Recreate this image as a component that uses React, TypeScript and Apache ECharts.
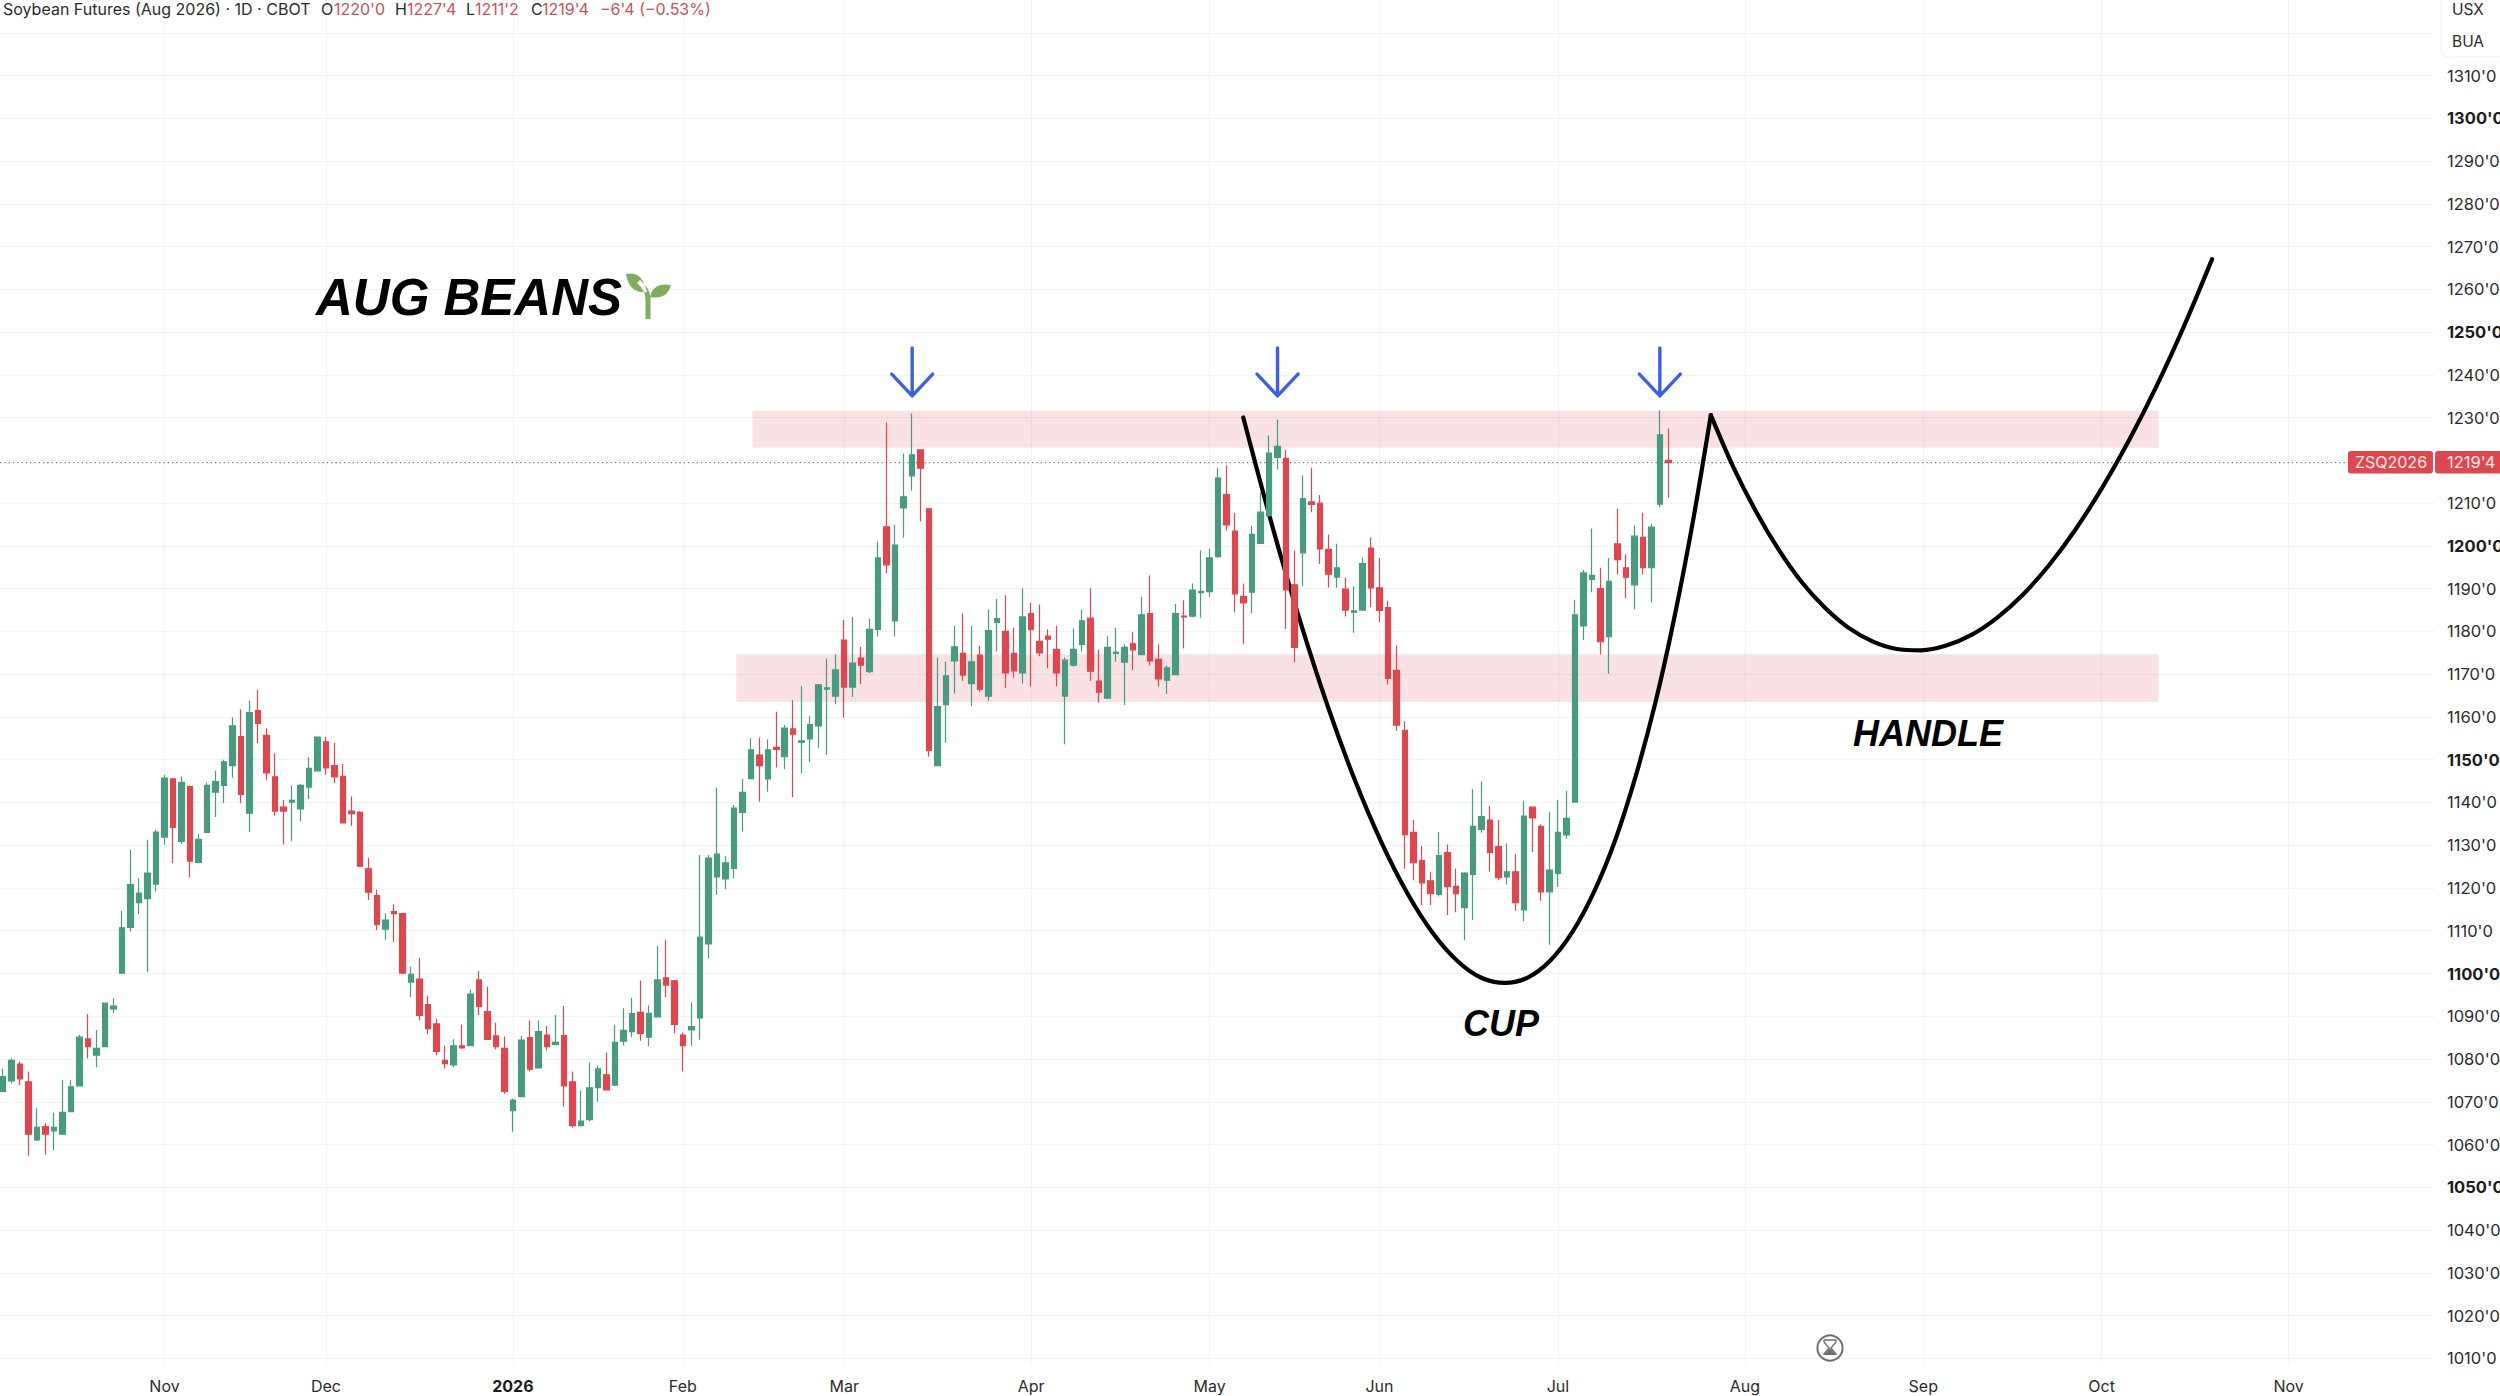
import React, { useEffect, useRef } from "react";
import * as echarts from "echarts";

const opens = [
  1072.4,1074.9,1078.8,1074.65,1061.1,1064.2,1063.2,1062.4,1067.7,1073.7,
  1084.7,1080.9,1082.9,1091.7,1100.1,1110.8,1116.6,1117.5,1120.9,1131.9,
  1145.5,1130.9,1143.7,1126,1133,1142.4,1144,1148.6,1155.4,1137.5,
  1161.5,1155.7,1146,1138.9,1140.1,1138.5,1143.6,1147.4,1154.2,1148.6,
  1146.1,1138,1137.7,1124.5,1118.2,1110.4,1114.5,1114,1098,1098.7,
  1092.7,1088.2,1079.7,1078.6,1083.1,1083.1,1098.5,1091.1,1085.4,1082.5,
  1067.9,1071.2,1085,1077.9,1085.6,1083.4,1085.5,1074.65,1064.4,1065.8,
  1073.3,1076.3,1073.9,1084.2,1086.4,1090.9,1085.1,1089.85,1099,1098.3,
  1085.6,1086.8,1089.6,1106.9,1122.6,1122.1,1124.6,1137.7,1145.6,1151.1,
  1145.5,1152.9,1150.7,1157.2,1154.1,1154.9,1157.9,1166.5,1164.9,1178,
  1167,1173.8,1170.6,1180.5,1204.5,1182.5,1208.9,1216.4,1222.5,1208.7,
  1148.6,1162.9,1173.1,1174.9,1167.8,1174.5,1164.9,1182.1,1180,1174.9,
  1170.3,1184.2,1177.7,1178.9,1175.8,1164.9,1172.1,1177,1183.1,1168.4,
  1164.4,1174.9,1172.8,1177.1,1174.6,1184.2,1173.5,1168.6,1169.9,1183.6,
  1183.6,1189.1,1189.3,1197.5,1212,1203.5,1188.2,1189.2,1200.6,1207.1,
  1220.7,1220.5,1190.9,1198.4,1210.3,1210,1199.2,1192.7,1189.9,1184.5,
  1185,1199.5,1190.2,1185.6,1170.9,1156.9,1133,1126.4,1121.7,1118.5,
  1128.3,1120.4,1115.4,1123.2,1133.7,1135.9,1129.7,1122.6,1123.8,1114.9,
  1138.9,1134.4,1119.1,1123.4,1132.4,1140.1,1181.3,1192.2,1190,1178.8,
  1200.5,1194.9,1190.9,1202,1194.9,1209.8,1220,
];
const closes = [
  1075.9,1079.7,1075.35,1062.4,1064,1062.4,1064,1067.5,1073.5,1085.1,
  1082.9,1082.5,1093.05,1092.4,1110.7,1120.8,1118.8,1123.5,1133.1,1145.7,
  1134.2,1144.7,1126.3,1131.4,1144,1144.9,1149.5,1157.9,1141.9,1161,
  1158.5,1146.9,1138,1138,1140.5,1144,1148,1155.3,1148.1,1146,
  1135.2,1137.4,1125.1,1119,1111.4,1112.5,1114,1100.1,1099.8,1090.2,
  1087.1,1081.8,1078.9,1083.1,1082.6,1095.2,1092.3,1084.6,1082.9,1072.4,
  1070.4,1084.4,1077.6,1086.4,1082.9,1083.9,1073.7,1064.4,1065.45,1073.25,
  1077.7,1072.8,1083.9,1086.7,1090.6,1086,1090.7,1098.5,1097.3,1088.1,
  1083.1,1087.6,1108.5,1127,1127.9,1125.9,1138.7,1142.4,1152.3,1148.6,
  1152.3,1152.4,1157.4,1156,1154.4,1158.2,1167.5,1166.8,1171,1167,
  1172.6,1172.1,1180.5,1197.2,1195.6,1200.2,1211.5,1221.3,1218.2,1152.2,
  1162.4,1169.6,1176.4,1169.8,1172.9,1166.5,1180.2,1183,1170.3,1170.8,
  1183.4,1180.4,1175,1178.2,1170.3,1173.3,1175.8,1182.5,1170.7,1165.8,
  1176.3,1175.2,1176.3,1175.7,1183.9,1173.1,1168.9,1171.5,1184.2,1183.4,
  1189.7,1189.4,1197.2,1215.9,1204.9,1188.8,1186.7,1202.7,1207.9,1221.7,
  1223.3,1189.7,1176.3,1211.1,1209.7,1199.3,1193.4,1194.9,1185,1184.8,
  1195.9,1190.2,1184.9,1169,1158.1,1132.5,1125.9,1121.2,1118.7,1127.6,
  1120.3,1118.7,1123.5,1134.4,1136.7,1128.3,1122.4,1123.8,1116.6,1136.8,
  1136.4,1119.1,1124.2,1133,1136.3,1183.9,1193.7,1193.1,1177.6,1191.7,
  1196.8,1192.7,1202.3,1194.9,1204.4,1226,1219.5,
];
const highs = [
  1077.8,1080.2,1079.4,1077.1,1068.5,1065,1067.5,1075.1,1075.1,1085.6,
  1090.55,1086.8,1093.2,1094.2,1114.7,1128.9,1122.3,1131.3,1133.6,1146.5,
  1145.7,1146.1,1144,1132.7,1144.7,1147.4,1150,1159.95,1161.8,1163.85,
  1166.3,1157.4,1151.5,1140.6,1144,1144.4,1150.6,1155.3,1155.4,1154,
  1149,1141.4,1138,1127,1119.6,1114.1,1116.2,1114.2,1101.6,1103.7,
  1094.8,1089.4,1083.1,1084.6,1088.1,1096.2,1100.5,1096.9,1088.5,1085.25,
  1070.75,1085.4,1089,1089,1087.75,1090.3,1092.4,1077.1,1072.6,1079.25,
  1078.5,1081.5,1088,1091.9,1094.3,1098.3,1092.5,1106.5,1107.9,1098.5,
  1086.2,1093.2,1127.7,1127.7,1143.5,1127.5,1139.4,1145.5,1155,1155.2,
  1154.8,1161.2,1158.1,1163.9,1167.2,1160.2,1167.7,1173.7,1174.7,1182.7,
  1183.4,1176.4,1183,1201,1228.9,1204.9,1221.6,1231,1222.5,1208.7,
  1173.9,1172.9,1181.3,1184.2,1181.3,1176.7,1185.2,1187.6,1188.5,1180.9,
  1190.1,1186.7,1186.3,1180.5,1181.3,1173.9,1180.7,1185.2,1190.1,1175.8,
  1178.9,1180.9,1177,1179.9,1188.1,1193.1,1177,1172.1,1186.4,1187.3,
  1191.2,1199,1199.4,1218.3,1218.8,1207.7,1191.2,1204.7,1212.5,1225.9,
  1229.6,1222.5,1198.9,1216.5,1218.3,1211.9,1202.7,1200.5,1192.6,1190.5,
  1197.3,1202,1197.2,1187.2,1176.7,1159,1135.9,1129.8,1123.8,1133.1,
  1130.2,1124.5,1123.7,1143.1,1144.9,1139.2,1135.9,1130.4,1127.9,1140.4,
  1138.9,1134.9,1137.7,1140.6,1142.7,1187.4,1194.4,1204.1,1194.9,1197.2,
  1208.7,1198,1204.8,1207.7,1205.2,1231.7,1227.5,
];
const lows = [
  1072.2,1074.3,1073.95,1057.4,1060.85,1057.6,1058.7,1062.25,1067.6,1073.55,
  1080.2,1078.1,1082.8,1090.7,1099.9,1109.8,1113.9,1100.3,1119.2,1130.1,
  1125.8,1130.3,1122.5,1125.8,1132.8,1136.6,1139.8,1145.8,1139.8,1133.1,
  1153.9,1145.3,1136.9,1130.2,1131,1135.6,1140.8,1147.3,1146.5,1144.5,
  1135.1,1134.5,1124.9,1117.2,1110.2,1107.9,1107.4,1099.8,1094.5,1089,
  1085.8,1080.9,1077.8,1078.1,1082.4,1083,1090.3,1084.5,1082.3,1071.8,
  1063,1071.1,1077.1,1077.8,1082,1083.2,1068.9,1064,1064.3,1065.4,
  1070,1072.6,1073.7,1083.2,1085.1,1084.3,1083,1089.8,1094.5,1086,
  1077.1,1083.1,1084.5,1103.5,1118.4,1119.7,1122.3,1133.2,1145.5,1140.2,
  1142.5,1148.2,1147.8,1141.3,1146.8,1149.4,1152.8,1151.1,1163,1159.8,
  1164.7,1167.7,1170.3,1178.8,1193.6,1178.8,1201.9,1212.9,1205.7,1150.7,
  1148.6,1154,1165.5,1168.4,1162.5,1165.9,1163.8,1175.3,1166.7,1169.2,
  1167.8,1167.1,1174.2,1171.4,1167.2,1153.6,1171.8,1175.3,1168.4,1163.4,
  1164.3,1172.9,1162.8,1171,1174.5,1172.1,1167.1,1165.4,1169.8,1176,
  1183.3,1183.2,1188,1197.3,1203.6,1184.5,1177.1,1184.3,1200.5,1206.9,
  1217.9,1180.6,1172.8,1190.6,1207.9,1195.8,1190.3,1190.2,1183.5,1179.7,
  1184.9,1185.7,1182.2,1167.6,1156.8,1124.5,1121.8,1116,1116,1118,
  1113.7,1114.3,1107.8,1112.5,1132.9,1123.8,1121.8,1120.8,1114.7,1112.2,
  1128.4,1117,1106.7,1120.3,1131.5,1140.1,1178,1189.2,1174.6,1170.1,
  1193.3,1187.7,1185.2,1193.3,1186.8,1209.1,1211.25,
];

// Month labels and the bar number (0 = first candle drawn) each one sits on.
const monthLabels = ["Nov","Dec","2026","Feb","Mar","Apr","May","Jun","Jul","Aug","Sep","Oct","Nov"];
const monthBars = [19,38,60,80,99,121,142,162,183,205,226,247,269];
const boldMonths = ["2026"];

const priceTicks = [1010,1020,1030,1040,1050,1060,1070,1080,1090,1100,1110,1120,1130,1140,1150,1160,1170,1180,1190,1200,1210,1220,1230,1240,1250,1260,1270,1280,1290,1300,1310,1320];
// 1320 sits behind the currency box, 1220 behind the price tag.
const priceLabels = priceTicks.filter((v) => v !== 1320 && v !== 1220);
const lastPrice = 1219.5;

// Hand-drawn cup and handle, as [bar, price].
const cupCurve = [
  [145.97,1230.05],[149.35,1204.9],[152.66,1182.4],[155.91,1162.5],[159.09,1145.3],[162.2,1130.8],
  [165.25,1118.9],[168.23,1109.6],[171.14,1103],[173.99,1099],[176.78,1097.8],[179.5,1099.1],
  [182.14,1103.1],[184.73,1109.8],[187.25,1119.1],[189.71,1131],[192.09,1145.7],[194.42,1162.9],
  [196.66,1182.8],[198.86,1205.4],[201,1230.6],
];
const handleCurve = [
  [201,1230.6],[203.59,1218.7],[206.25,1208.3],[208.93,1199.3],[211.64,1191.7],[214.41,1185.6],
  [217.18,1180.9],[220.02,1177.7],[222.88,1175.9],[225.78,1175.6],[228.71,1176.7],[231.67,1179.2],
  [234.68,1183.2],[237.72,1188.6],[240.8,1195.5],[243.9,1203.8],[247.05,1213.6],[250.24,1224.8],
  [253.46,1237.4],[256.71,1251.5],[260,1267.1],
];
const bandUpper = [88.2, 253.7, 1231.6, 1223];
const bandLower = [86.3, 253.7, 1174.7, 1163.5];
const arrowBars = [107, 150, 195];
const arrowPrices = { top: 1246.3, tip: 1235.1, head: 1240.2 };
const arrowHalfWidth = 2.41;

const GREEN = "#4A9A82";
const RED = "#DC484F";
const GRID = "#F1F2F4";
const UI_FONT = "Inter";

const headerParts: [number, string, string][] = [
  [3, "Soybean Futures (Aug 2026) · 1D · CBOT", "#2b2b2b"],
  [321, "O", "#2b2b2b"], [334, "1220'0", "#C4535E"],
  [395, "H", "#2b2b2b"], [407, "1227'4", "#C4535E"],
  [466, "L", "#2b2b2b"], [475, "1211'2", "#C4535E"],
  [531, "C", "#2b2b2b"], [542, "1219'4", "#C4535E"],
  [600, "−6'4 (−0.53%)", "#C4535E"],
];

echarts.graphic.registerShape(
  "sprout",
  echarts.graphic.extendPath(
    "M645.5 319 L650.5 319 L650.5 298 Q650 288 640 280 L637 283 Q645.5 290 645.5 300 Z " +
      "M626 274 Q642 270 647 292 Q629 294 626 274 Z " +
      "M650 297 Q653 282 671 285 Q667 300 650 297 Z",
    {}
  ) as any
);

function buildOption() {
  const candles = opens.map((o, i) => [i, o, closes[i], lows[i], highs[i]]);

  const line = (name: string, data: number[][], extra: any) => ({
    type: "line", name, data,
    showSymbol: false, symbol: "none", silent: true, clip: true, ...extra,
  });

  const arrows = arrowBars.map((b, i) =>
    line(`arrow${i}`, [
      [b, arrowPrices.top], [b, arrowPrices.tip], [b - arrowHalfWidth, arrowPrices.head],
      [b, arrowPrices.tip], [b + arrowHalfWidth, arrowPrices.head],
    ], { z: 4, lineStyle: { color: "#3F5FE0", width: 3.4, cap: "round", join: "round" } })
  );

  const text = (x: number, y: number, t: string, font: string, fill: string, align = "left") => ({
    type: "text", x, y, z: 20,
    style: { text: t, font, fill, align, verticalAlign: "middle" },
  });
  const boldItalic = (s: number) => `italic bold ${s}px "Liberation Sans"`;
  const ui = (s: number) => `${s}px ${UI_FONT}`;

  return {
    animation: false,
    backgroundColor: "#ffffff",
    grid: { left: 0, right: 67, top: 0, bottom: 31, containLabel: false, outerBoundsMode: "none" },
    xAxis: {
      type: "value",
      min: -0.365,
      max: 286,
      axisLine: { show: false },
      axisTick: { show: false, customValues: monthBars },
      splitLine: { show: true, lineStyle: { color: "#F2F3F5", width: 1 } },
      axisLabel: {
        customValues: monthBars,
        margin: 13,
        color: "#2b2b2b",
        fontFamily: UI_FONT,
        fontSize: 16,
        formatter: (v: number) => {
          const label = monthLabels[monthBars.indexOf(v)] ?? "";
          return boldMonths.includes(label) ? `{b|${label}}` : label;
        },
        rich: { b: { fontFamily: UI_FONT, fontSize: 16, fontWeight: "bold", color: "#1c1c1c" } },
      },
    },
    yAxis: {
      type: "value",
      position: "right",
      min: 1008.43,
      max: 1327.7,
      axisLine: { show: false },
      axisTick: { show: false, customValues: priceTicks },
      splitLine: { show: true, lineStyle: { color: GRID, width: 1 } },
      axisLabel: {
        customValues: priceLabels,
        margin: 14,
        color: "#2b2b2b",
        fontFamily: UI_FONT,
        fontSize: 16.5,
        align: "left",
        formatter: (v: number) => (v % 50 === 0 ? `{b|${v}'0}` : `${v}'0`),
        rich: { b: { fontFamily: UI_FONT, fontSize: 16.5, fontWeight: "bold", color: "#1c1c1c" } },
      },
    },
    series: [
      line("last", [[-0.365, lastPrice], [286, lastPrice]], {
        z: 1,
        lineStyle: { color: "#777777", width: 1.3, type: [1.3, 3] },
        markArea: {
          silent: true,
          itemStyle: { color: "rgba(215,70,90,0.16)" },
          data: [bandUpper, bandLower].map(([x0, x1, y0, y1]) => [
            { coord: [x0, y0] }, { coord: [x1, y1] },
          ]),
        },
      }),
      line("cup", cupCurve, { z: 2, smooth: 0.3, lineStyle: { color: "#000", width: 4.2, cap: "round" } }),
      line("handle", handleCurve, { z: 2, smooth: 0.3, lineStyle: { color: "#000", width: 4.2, cap: "round" } }),
      {
        type: "candlestick",
        name: "ZSQ2026",
        z: 3,
        silent: true,
        barWidth: 6,
        encode: { x: 0, y: [1, 2, 3, 4] },
        data: candles,
        itemStyle: { color: GREEN, color0: RED, borderColor: GREEN, borderColor0: RED, borderWidth: 1.2 },
      },
      ...arrows,
    ],
    graphic: {
      elements: [
        ...headerParts.map(([x, t, c]) => text(x, 9, t, ui(16), c)),
        { type: "rect", z: 19, shape: { x: 2441, y: -8, width: 70, height: 65, r: 8 }, style: { fill: "#fff", stroke: "#F1F1F2", lineWidth: 1 } },
        text(2452, 9, "USX", ui(15.5), "#2b2b2b"),
        text(2452, 41, "BUA", ui(15.5), "#2b2b2b"),
        { type: "rect", z: 19, shape: { x: 2348, y: 451, width: 85, height: 22.5, r: 3 }, style: { fill: RED } },
        { type: "rect", z: 19, shape: { x: 2435, y: 451, width: 70, height: 22.5, r: 3 }, style: { fill: RED } },
        text(2391, 462, "ZSQ2026", ui(16), "#FCE9EA", "center"),
        text(2447, 462, "1219'4", ui(16.5), "#FCE9EA"),
        text(316, 297, "AUG BEANS", boldItalic(51), "#000"),
        { type: "sprout", z: 20, x: 0, y: 0, style: { fill: "#7FAE60" } },
        text(1463, 1023, "CUP", boldItalic(36), "#000"),
        text(1853, 733, "HANDLE", boldItalic(36), "#000"),
        { type: "circle", z: 20, shape: { cx: 1830, cy: 1348, r: 12.6 }, style: { fill: "#fff", stroke: "#707070", lineWidth: 2 } },
        { type: "polyline", z: 20, shape: { points: [[1824, 1340], [1836, 1340], [1836, 1342], [1831, 1348], [1836, 1354], [1824, 1354], [1829, 1348], [1824, 1342], [1824, 1340]] }, style: { stroke: "#707070", lineWidth: 1.4, fill: "none" } },
        { type: "polygon", z: 20, shape: { points: [[1830, 1348], [1836, 1355], [1824, 1355]] }, style: { fill: "#707070" } },
      ],
    },
  };
}

export default function App() {
  const ref = useRef<HTMLDivElement>(null);
  useEffect(() => {
    const chart = echarts.init(ref.current as HTMLDivElement, undefined, { renderer: "svg" });
    chart.setOption(buildOption() as any);
    return () => chart.dispose();
  }, []);
  return <div ref={ref} style={{ position: "fixed", left: 0, top: 0, width: 2500, height: 1396, background: "#fff" }} />;
}
